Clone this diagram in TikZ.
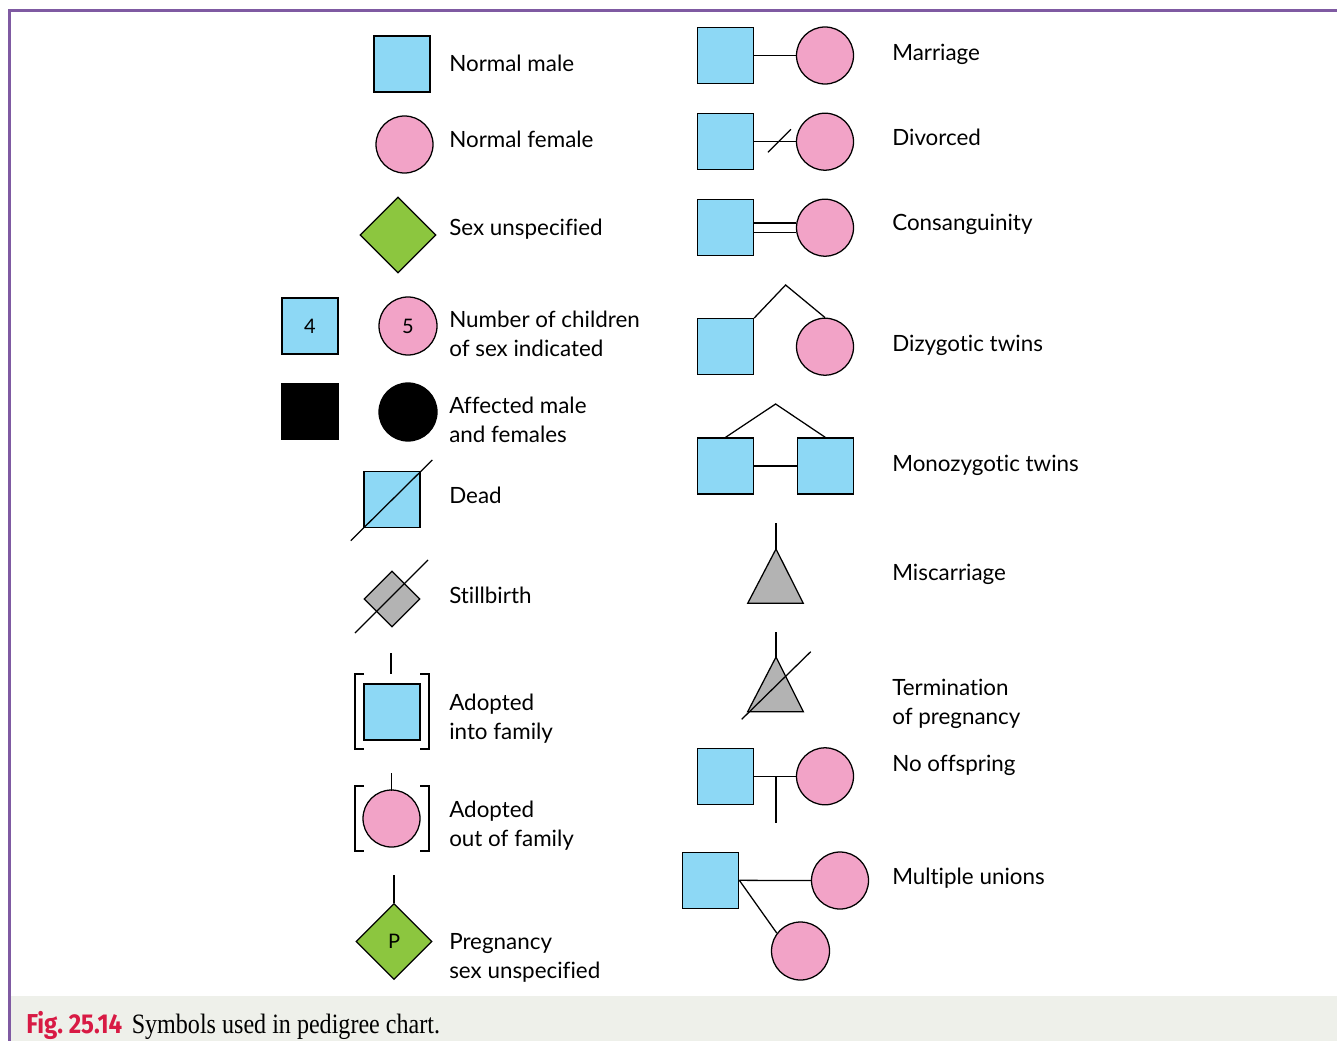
\documentclass[tikz,border=0pt]{standalone}
\usepackage{fontspec}
\usepackage{graphicx}
\setmainfont[Ligatures=NoCommon]{Lato}
\newfontfamily\capserif{Liberation Serif}
\newfontfamily\capsans{Fira Sans}
\usetikzlibrary{shapes.geometric}
\definecolor{maleblue}{HTML}{8DD8F5}
\definecolor{femalepink}{HTML}{F2A3C7}
\definecolor{unkgreen}{HTML}{8CC63F}
\definecolor{lossgray}{HTML}{B3B3B3}
\definecolor{framepurple}{HTML}{7F5AA2}
\definecolor{capband}{HTML}{EEF0EA}
\definecolor{figred}{HTML}{D81A44}
\tikzset{
  ln/.style={draw=black, line width=0.95pt},
  malebox/.style={ln, rectangle, fill=maleblue, minimum size=42pt, inner sep=0pt},
  femaledisc/.style={ln, circle, fill=femalepink, minimum size=42.75pt, inner sep=0pt},
  unkdiamond/.style={ln, diamond, fill=unkgreen, minimum width=57pt, minimum height=57pt, inner sep=0pt},
  lbl/.style={anchor=base west, inner sep=0pt, align=left, font=\fontsize{16.8pt}{21.75pt}\selectfont},
  inlbl/.style={font=\fontsize{15pt}{17pt}\selectfont},
}
\begin{document}
\begin{tikzpicture}[x=0.75pt, y=-0.75pt]
\useasboundingbox (0,0) rectangle (1337,1041);
% frame and caption band
\fill[capband] (10,996) rectangle (1337,1041);
\draw[framepurple, line width=2.2pt] (8.5,10.5) -- (1337,10.5);
\draw[framepurple, line width=2.2pt] (9.5,9.5) -- (9.5,1041);
\node[anchor=base west, inner sep=0pt] (capfig) at (26,1033)
  {\scalebox{0.88}[1]{\capsans\bfseries\fontsize{20.5pt}{22pt}\selectfont\color{figred}Fig.\ 25.14}};
\node[anchor=base west, inner sep=0pt] (captxt) at (131.5,1033)
  {\scalebox{0.86}[1]{\capserif\fontsize{21pt}{22pt}\selectfont Symbols used in pedigree chart.}};

% ---------- left column ----------
\node[malebox] (nm) at (402,64) {};
\node[lbl] (tnm) at (449,72) {Normal male};
\node[femaledisc] (nf) at (404.5,144.5) {};
\node[lbl] (tnf) at (449,148) {Normal female};
\node[unkdiamond] (su) at (398,235) {};
\node[lbl] (tsu) at (449,235) {Sex unspecified};

% two-line labels: base anchor sits 36 units below the first baseline
\node[malebox, inlbl] (n4) at (310,326) {4};
\node[femaledisc, minimum size=43.5pt, inlbl] (n5) at (408,326) {5};
\node[lbl] (tn) at (449,356) {Number of children\\of sex indicated};

\node[malebox, fill=black] (am) at (310,411.5) {};
\node[femaledisc, fill=black, minimum size=43.5pt] (af) at (408,412) {};
\node[lbl] (ta) at (449,442) {Affected male\\and females};

\node[malebox] (dead) at (392,499.5) {};
\coordinate (dead1) at (350.7,540.7);
\coordinate (dead2) at (432.3,460);
\draw[ln] (dead1) -- (dead2);
\node[lbl] (tdead) at (449,503) {Dead};

\node[unkdiamond, fill=lossgray, minimum width=42pt, minimum height=42pt] (sb) at (392,599) {};
\coordinate (sb1) at (355,633);
\coordinate (sb2) at (428,560);
\draw[ln] (sb1) -- (sb2);
\node[lbl] (tsb) at (449,603) {Stillbirth};

\node[malebox] (adin) at (392,712) {};
\coordinate (adinT1) at (391,653);
\coordinate (adinT2) at (391,674);
\draw[ln] (adinT1) -- (adinT2);
\draw[ln] (364,674) -- (355,674) -- (355,749) -- (364,749);
\draw[ln] (420,674) -- (429,674) -- (429,749) -- (420,749);
\node[lbl] (tadin) at (449,739) {Adopted\\into family};

\node[femaledisc] (adout) at (391.5,818.5) {};
\coordinate (adoutT) at (391.5,773);
\draw[ln] (adoutT) -- ([yshift=-1.5pt]adout.north);
\draw[ln] (364,786) -- (355,786) -- (355,851) -- (364,851);
\draw[ln] (420,786) -- (429,786) -- (429,851) -- (420,851);
\node[lbl] (tadout) at (449,846) {Adopted\\out of family};

\node[unkdiamond, inlbl] (preg) at (394,941.5) {P};
\coordinate (pregT) at (394,875);
\draw[ln] (pregT) -- (preg.north);
\node[lbl] (tpreg) at (449,978) {Pregnancy\\sex unspecified};

% ---------- right column ----------
\node[malebox] (marM) at (725.5,55.5) {};
\node[femaledisc] (marF) at (825,55.5) {};
\draw[ln] (marM) -- (marF);
\node[lbl] (tmar) at (892,61) {Marriage};

\node[malebox] (divM) at (725.5,141.7) {};
\node[femaledisc] (divF) at (825,141.7) {};
\draw[ln] (divM) -- (divF);
\coordinate (div1) at (768,152.3);
\coordinate (div2) at (791,129.3);
\draw[ln] (div1) -- (div2);
\node[lbl] (tdiv) at (892,146) {Divorced};

\node[malebox] (conM) at (725.5,227.7) {};
\node[femaledisc] (conF) at (825,227.7) {};
\draw[ln] ([yshift=3.5pt]conM.east) -- ([yshift=3.5pt]conF.west);
\draw[ln] ([yshift=-3.5pt]conM.east) -- ([yshift=-3.5pt]conF.west);
\node[lbl] (tcon) at (892,231) {Consanguinity};

\node[malebox] (dzM) at (725.5,346.7) {};
\node[femaledisc] (dzF) at (825,346.7) {};
\coordinate (dzA) at (785.6,285);
\draw[ln] (dzM.north east) -- (dzA) -- (dzF.north);
\node[lbl] (tdz) at (892,351) {Dizygotic twins};

\node[malebox] (mzA) at (725.5,466) {};
\node[malebox] (mzB) at (825.3,466) {};
\coordinate (mzP) at (775.6,404);
\draw[ln] (mzA.north) -- (mzP) -- (mzB.north);
\draw[ln] (mzA) -- (mzB);
\node[lbl] (tmz) at (892,471) {Monozygotic twins};

\coordinate (msT) at (776,523);
\coordinate (msA) at (776,549);
\draw[ln] (msT) -- (msA);
\filldraw[ln, fill=lossgray, line join=miter] (msA) -- (803.3,603.3) -- (747.7,603.3) -- cycle;
\node[lbl] (tms) at (892,580.5) {Miscarriage};

\coordinate (tpT) at (776,632);
\coordinate (tpA) at (776,657);
\draw[ln] (tpT) -- (tpA);
\filldraw[ln, fill=lossgray, line join=miter] (tpA) -- (803.3,711.7) -- (747.7,711.7) -- cycle;
\coordinate (tp1) at (741.7,719.3);
\coordinate (tp2) at (810.7,651.7);
\draw[ln] (tp1) -- (tp2);
\node[lbl] (ttp) at (892,724.5) {Termination\\of pregnancy};

\node[malebox] (noM) at (725.5,776.3) {};
\node[femaledisc] (noF) at (825,776.3) {};
\draw[ln] (noM) -- (noF);
\coordinate (noMid) at (776,776.3);
\coordinate (noEnd) at (776,822.7);
\draw[ln] (noMid) -- (noEnd);
\node[lbl] (tno) at (892,771) {No offspring};

\node[malebox] (muM) at (710.7,880.3) {};
\node[femaledisc] (muF1) at (840,880.5) {};
\node[femaledisc, minimum size=43.5pt] (muF2) at (800.5,951) {};
\draw[ln] (muM) -- (muF1);
\draw[ln] (muM.east) -- (muF2.143);
\node[lbl] (tmu) at (892,884) {Multiple unions};
\end{tikzpicture}
\end{document}
